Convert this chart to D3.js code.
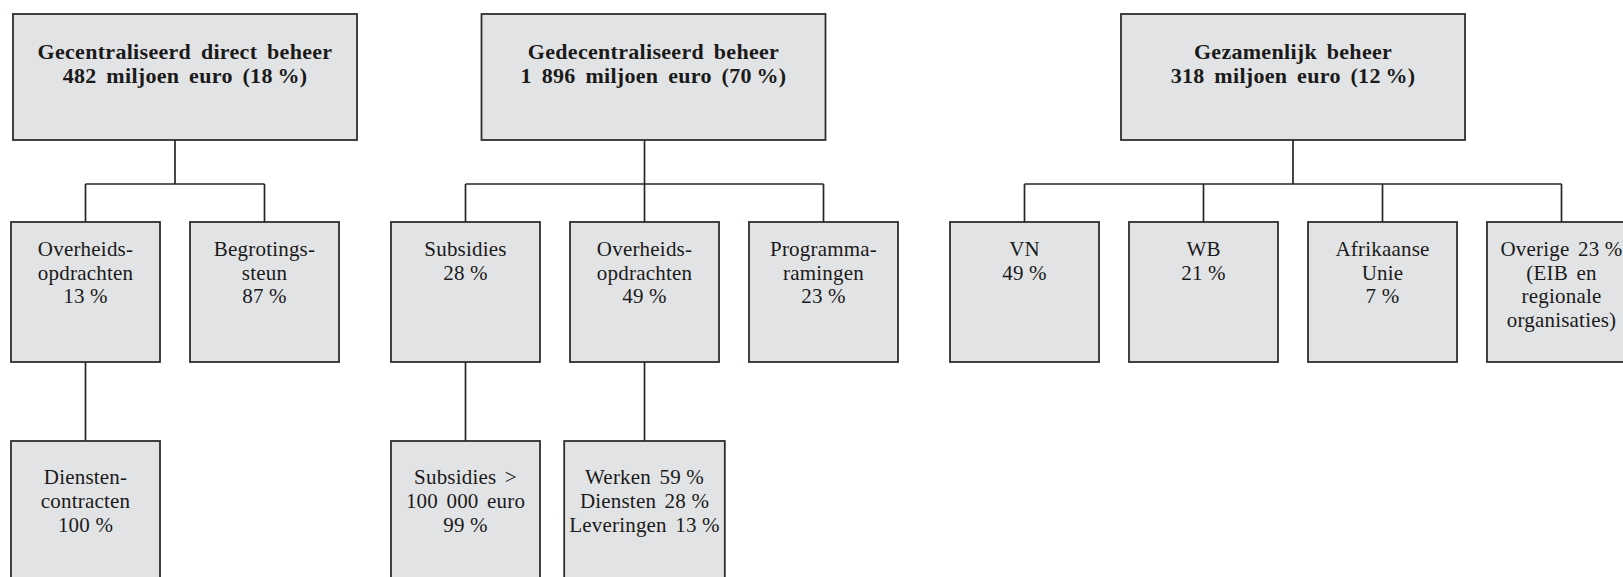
<!DOCTYPE html>
<html>
<head>
<meta charset="utf-8">
<script src="https://cdn.jsdelivr.net/npm/d3@7"></script>
<style>
  html, body { margin: 0; padding: 0; background: #fff; }
  #chart { width: 1623px; height: 577px; overflow: hidden; }
  .box { fill: #e2e3e5; stroke: #2e2e2e; stroke-width: 1.8; }
  .link { fill: none; stroke: #262626; stroke-width: 1.7; }
  text { font-family: "Liberation Serif", "Times New Roman", serif; fill: #1a1a1a; }
  .head-text { font-size: 22px; font-weight: bold; letter-spacing: 0.3px; word-spacing: 4px; }
  .node-text { font-size: 21px; letter-spacing: 0.2px; word-spacing: 3px; }
</style>
</head>
<body>
<div id="chart"></div>
<script>
const width = 1623;
const height = 577;

// top level: management modes
const headNames = ["Gecentraliseerd direct beheer", "Gedecentraliseerd beheer", "Gezamenlijk beheer"];
const headAmounts = ["482", "1 896", "318"]; // miljoen euro
const headShares = [18, 70, 12];

// second level
const level2Group = [0, 0, 1, 1, 1, 2, 2, 2, 2];
const level2Lines = [
  ["Overheids-", "opdrachten", "{0}"],
  ["Begrotings-", "steun", "{0}"],
  ["Subsidies", "{0}"],
  ["Overheids-", "opdrachten", "{0}"],
  ["Programma-", "ramingen", "{0}"],
  ["VN", "{0}"],
  ["WB", "{0}"],
  ["Afrikaanse", "Unie", "{0}"],
  ["Overige {0}", "(EIB en", "regionale", "organisaties)"],
];
const level2Shares = [[13], [87], [28], [49], [23], [49], [21], [7], [23]];

// third level
const level3Parent = [0, 2, 3];
const level3Lines = [
  ["Diensten-", "contracten", "{0}"],
  ["Subsidies >", "100 000 euro", "{0}"],
  ["Werken {0}", "Diensten {1}", "Leveringen {2}"],
];
const level3Shares = [[100], [99], [59, 28, 13]];

// layout
const boxW = 149;
const groupGap = 22 / 179; // extra gap between groups, in slot units
const headTop = 14, headH = 126, headW = 344;
const headShift = [10, 9, 0]; // head boxes sit a bit right of their connector
const barY = 184;
const l2Top = 222, l2H = 140;
const l3Top = 441, l3H = 140;

const pct = (v) => `${v}\u2005%`;
const fill = (s, vals) => s.replace(/\{(\d)\}/g, (m, k) => pct(vals[+k]));

const slot = d3
  .scaleLinear()
  .domain([0, 8 + 2 * groupGap])
  .range([11, 1487]);

const svg = d3
  .select("#chart")
  .append("svg")
  .attr("width", width)
  .attr("height", height)
  .attr("viewBox", `0 0 ${width} ${height}`);

const linkG = svg.append("g");
const boxG = svg.append("g");

// level 2 nodes
const l2 = level2Lines.map((lines, i) => {
  const x = slot(i + level2Group[i] * groupGap);
  return {
    x: x,
    cx: x + boxW / 2,
    group: level2Group[i],
    lines: lines.map((s) => fill(s, level2Shares[i])),
  };
});

// level 1 nodes, centred on their children
const heads = headNames.map((name, g) => {
  const kids = l2.filter((d) => d.group === g);
  const cx = d3.mean([kids[0].cx, kids[kids.length - 1].cx]);
  return {
    cx: cx,
    boxCx: cx + headShift[g],
    kids: kids,
    lines: [name, `${headAmounts[g]} miljoen euro (${headShares[g]}\u2009%)`],
  };
});

// level 3 nodes
const l3 = level3Lines.map((lines, i) => ({
  parent: l2[level3Parent[i]],
  cx: l2[level3Parent[i]].cx,
  lines: lines.map((s) => fill(s, level3Shares[i])),
}));

function addText(g, lines, cx, y0, lh, cls) {
  const t = g
    .append("text")
    .attr("class", cls)
    .attr("text-anchor", "middle");
  lines.forEach((s, k) => {
    t.append("tspan").attr("x", cx).attr("y", y0 + k * lh).text(s);
  });
  return t;
}

// connectors
heads.forEach((h) => {
  linkG.append("line").attr("class", "link")
    .attr("x1", h.cx).attr("x2", h.cx)
    .attr("y1", headTop + headH).attr("y2", barY);
  linkG.append("line").attr("class", "link")
    .attr("x1", h.kids[0].cx).attr("x2", h.kids[h.kids.length - 1].cx)
    .attr("y1", barY).attr("y2", barY);
  h.kids.forEach((k) => {
    linkG.append("line").attr("class", "link")
      .attr("x1", k.cx).attr("x2", k.cx)
      .attr("y1", barY).attr("y2", l2Top);
  });
});
l3.forEach((d) => {
  linkG.append("line").attr("class", "link")
    .attr("x1", d.cx).attr("x2", d.cx)
    .attr("y1", l2Top + l2H).attr("y2", l3Top);
});

// head boxes
heads.forEach((h) => {
  const g = boxG.append("g");
  g.append("rect").attr("class", "box")
    .attr("x", h.boxCx - headW / 2).attr("y", headTop)
    .attr("width", headW).attr("height", headH);
  addText(g, h.lines, h.boxCx, headTop + 45, 24, "head-text");
});

// level 2 boxes
l2.forEach((d) => {
  const g = boxG.append("g");
  g.append("rect").attr("class", "box")
    .attr("x", d.x).attr("y", l2Top)
    .attr("width", boxW).attr("height", l2H);
  addText(g, d.lines, d.cx, l2Top + 34, 23.5, "node-text");
});

// level 3 boxes, widened when the text needs it
l3.forEach((d) => {
  const g = boxG.append("g");
  const rect = g.append("rect").attr("class", "box");
  const t = addText(g, d.lines, d.cx, l3Top + 43, 24, "node-text");
  const tw = d3.max(t.selectAll("tspan").nodes(), (n) => n.getComputedTextLength());
  const w = Math.max(boxW, tw + 10);
  rect.attr("x", d.cx - w / 2).attr("y", l3Top)
    .attr("width", w).attr("height", l3H);
});
</script>
</body>
</html>
